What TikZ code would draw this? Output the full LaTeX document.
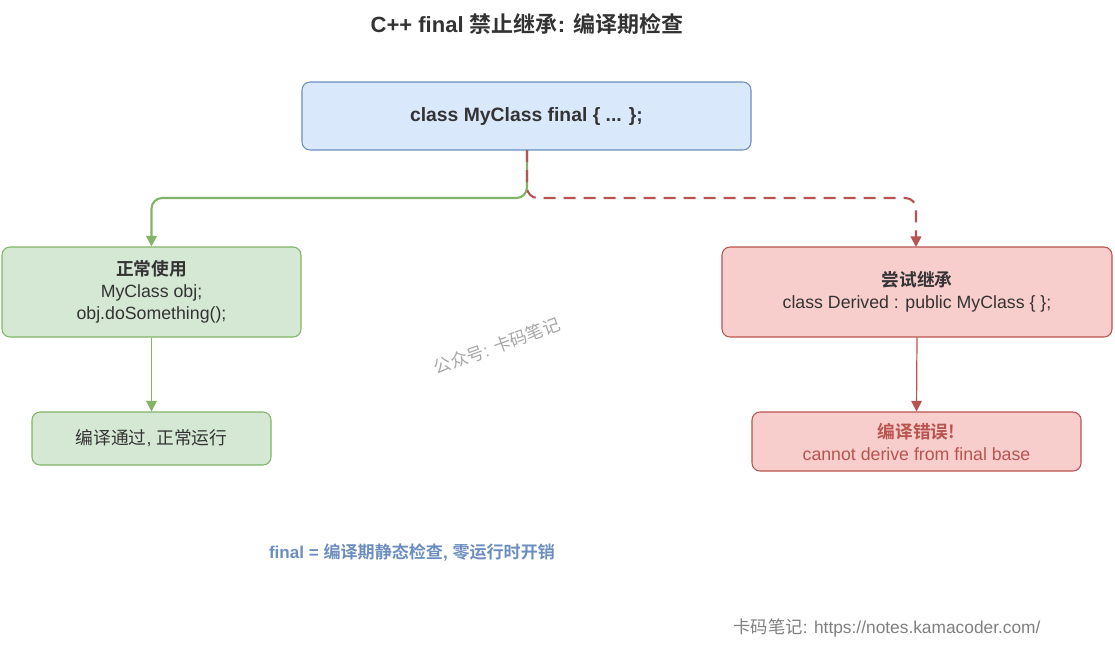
\documentclass[tikz,border=0pt]{standalone}
\usepackage{fontspec}
\setmainfont{Liberation Sans}
\newfontfamily\cjk{Noto Sans CJK SC}[BoldFont={Noto Sans CJK SC Bold}]
\usetikzlibrary{arrows.meta}
\definecolor{bfill}{HTML}{DAE8FC}\definecolor{bline}{HTML}{6C8EBF}
\definecolor{gfill}{HTML}{D5E8D4}\definecolor{gline}{HTML}{82B366}
\definecolor{rfill}{HTML}{F8CECC}\definecolor{rline}{HTML}{B85450}
\definecolor{gtext}{HTML}{333333}
\tikzset{
 box/.style={draw, rounded corners=6pt, line width=0.8pt, align=center, font=\fontsize{13.3}{16.5}\selectfont, text=gtext},
 bluebox/.style={box, fill=bfill, draw=bline},
 greenbox/.style={box, fill=gfill, draw=gline},
 redbox/.style={box, fill=rfill, draw=rline},
 arr/.style={-{Triangle[length=8pt,width=8pt]}, line width=0.9pt}
}
\begin{document}
\begin{tikzpicture}[x=0.75pt,y=-0.75pt]
\useasboundingbox[fill=white] (0,0) rectangle (1115,647);
\node[font=\bfseries\fontsize{16.5}{19}\selectfont, text=gtext] (title) at (527,24) {C++ final {\cjk 禁止继承}: {\cjk 编译期检查}};
\node[bluebox, minimum width=449*0.75pt, minimum height=68*0.75pt, font=\bfseries\fontsize{14.5}{17}\selectfont] (top) at (526.5,116) {class MyClass final \{ ... \};};
\node[greenbox, minimum width=299*0.75pt, minimum height=90*0.75pt] (ok) at (151.5,292) {{\cjk\bfseries 正常使用}\\MyClass obj;\\obj.doSomething();};
\node[greenbox, minimum width=239*0.75pt, minimum height=53*0.75pt] (okres) at (151.5,438.5) {{\cjk 编译通过}, {\cjk 正常运行}};
\node[redbox, minimum width=390*0.75pt, minimum height=90*0.75pt] (bad) at (917,292) {{\cjk\bfseries 尝试继承}\\class Derived : public MyClass \{ \};};
\node[redbox, minimum width=329*0.75pt, minimum height=59*0.75pt, text=rline] (badres) at (916.5,441.5) {{\cjk\bfseries 编译错误!}\\cannot derive from final base};
\coordinate (j) at (527,150);
\draw[arr, gline, line width=1.6pt, rounded corners=8pt] (j) -- (527,198) -- (151.5,198) -- (ok.north);
\draw[arr, rline, line width=1.6pt, dashed, dash pattern=on 9pt off 6pt, rounded corners=8pt] (j) -- (527,198) -- (916,198) -- (916,247);
\draw[arr, gline] (ok.south) -- (okres.north);
\draw[arr, rline] (bad.south) -- (badres.north);
\node[text=gray!70, rotate=20, inner sep=0pt, font=\fontsize{13}{14}\selectfont] (wm) at (497,346) {{\cjk 公众号}: {\cjk 卡码笔记}};
\node[text=bline, font=\bfseries\fontsize{12.8}{14}\selectfont] (note) at (412,552) {final = {\cjk 编译期静态检查}, {\cjk 零运行时开销}};
\node[text=gray, font=\fontsize{13}{14}\selectfont] (foot) at (887,628) {{\cjk 卡码笔记}: https://notes.kamacoder.com/};
\end{tikzpicture}
\end{document}
